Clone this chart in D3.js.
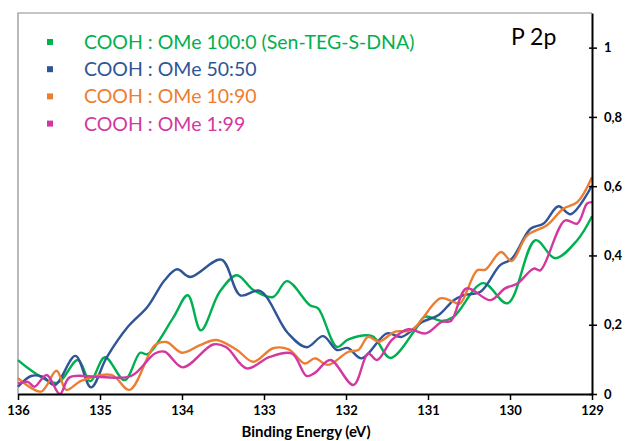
<!DOCTYPE html>
<html>
<head>
<meta charset="utf-8">
<script src="https://cdn.jsdelivr.net/npm/d3@7"></script>
<style>
  body { margin: 0; background: #fff; }
  svg { display: block; }
</style>
</head>
<body>
<svg id="chart" width="627" height="441"></svg>
<script>
// Series, as (binding energy, intensity) pairs
var sample100 = [
    [136.00, 0.098], [135.53, 0.032], [135.27, 0.098], [135.12, 0.037], [134.94, 0.106],
    [134.70, 0.040], [134.51, 0.119], [134.42, 0.115], [134.11, 0.219], [133.93, 0.285],
    [133.77, 0.184], [133.54, 0.295], [133.33, 0.343], [133.13, 0.300], [132.89, 0.280],
    [132.72, 0.326], [132.44, 0.256], [132.34, 0.247], [132.11, 0.136], [131.97, 0.158],
    [131.68, 0.167], [131.46, 0.104], [131.16, 0.184], [131.04, 0.223], [130.83, 0.211],
    [130.69, 0.222], [130.33, 0.320], [130.03, 0.262], [129.69, 0.444], [129.45, 0.392],
    [129.18, 0.444], [129.00, 0.513]
];
var sample50 = [
    [136.00, 0.021], [135.84, 0.052], [135.70, 0.050], [135.55, 0.026], [135.30, 0.110],
    [135.11, 0.019], [134.92, 0.105], [134.66, 0.194], [134.42, 0.252], [134.21, 0.329],
    [134.06, 0.360], [133.90, 0.338], [133.52, 0.388], [133.29, 0.285], [133.05, 0.298],
    [132.71, 0.176], [132.48, 0.135], [132.28, 0.167], [132.11, 0.127], [131.98, 0.133],
    [131.81, 0.103], [131.50, 0.175], [131.32, 0.165], [131.07, 0.208], [130.87, 0.228],
    [130.69, 0.270], [130.57, 0.285], [130.36, 0.295], [130.12, 0.372], [129.98, 0.390],
    [129.75, 0.477], [129.59, 0.492], [129.41, 0.542], [129.26, 0.519], [129.00, 0.602]
];
var sample10 = [
    [136.00, 0.046], [135.72, 0.007], [135.53, 0.067], [135.41, 0.012], [135.23, 0.038],
    [134.86, 0.055], [134.64, 0.012], [134.33, 0.141], [134.19, 0.150], [134.00, 0.119],
    [133.78, 0.141], [133.58, 0.156], [133.33, 0.127], [133.13, 0.093], [132.89, 0.132],
    [132.70, 0.129], [132.50, 0.088], [132.38, 0.103], [132.22, 0.084], [131.97, 0.122],
    [131.85, 0.127], [131.73, 0.165], [131.60, 0.151], [131.40, 0.180], [131.20, 0.184],
    [130.85, 0.276], [130.69, 0.266], [130.61, 0.261], [130.40, 0.357], [130.30, 0.359],
    [130.11, 0.410], [129.98, 0.384], [129.79, 0.458], [129.55, 0.487], [129.35, 0.535],
    [129.18, 0.554], [129.00, 0.626]
];
var sample1 = [
    [136.00, 0.030], [135.88, 0.035], [135.80, 0.021], [135.65, 0.055], [135.49, 0.000],
    [135.37, 0.048], [135.00, 0.049], [134.62, 0.052], [134.33, 0.117], [134.21, 0.122],
    [133.99, 0.077], [133.62, 0.143], [133.46, 0.135], [133.21, 0.074], [132.93, 0.107],
    [132.66, 0.117], [132.48, 0.052], [132.38, 0.061], [132.19, 0.098], [131.91, 0.026],
    [131.73, 0.117], [131.62, 0.098], [131.44, 0.156], [131.24, 0.187], [131.03, 0.175],
    [130.83, 0.208], [130.72, 0.211], [130.53, 0.305], [130.24, 0.271], [130.06, 0.305],
    [129.91, 0.319], [129.71, 0.362], [129.63, 0.357], [129.33, 0.501], [129.18, 0.492],
    [129.06, 0.550], [129.00, 0.554]
];

var seriesNames = [
    "COOH : OMe 100:0 (Sen-TEG-S-DNA)",
    "COOH : OMe 50:50",
    "COOH : OMe 10:90",
    "COOH : OMe 1:99"
];
var seriesColors = ["#00b050", "#2f5597", "#ed7d31", "#d2389f"];
var seriesData = [sample100, sample50, sample10, sample1];

var xTicks = [136, 135, 134, 133, 132, 131, 130, 129];
var yTicks = [0, 0.2, 0.4, 0.6, 0.8, 1];

var margin = {top: 13, right: 35, bottom: 47, left: 18};
var width = 627 - margin.left - margin.right;
var height = 441 - margin.top - margin.bottom;

var svg = d3.select("#chart");
var g = svg.append("g")
    .attr("transform", "translate(" + margin.left + "," + margin.top + ")");

var x = d3.scaleLinear().domain([136, 129]).range([0, width]);
var y = d3.scaleLinear().domain([0, 1.1]).range([height, 0]);

// grey frame on top and left
g.append("path")
    .attr("d", "M0," + height + "V0H" + width)
    .attr("fill", "none")
    .attr("stroke", "#8c8c8c")
    .attr("stroke-width", 1.2);

// lines
var line = d3.line()
    .x(function(d) { return x(d[0]); })
    .y(function(d) { return y(d[1]); })
    .curve(d3.curveCatmullRom.alpha(0.5));

seriesData.forEach(function(data, i) {
    g.append("path")
        .datum(data)
        .attr("fill", "none")
        .attr("stroke", seriesColors[i])
        .attr("stroke-width", 2.4)
        .attr("stroke-linejoin", "round")
        .attr("d", line);
});

// bottom axis
var xAxis = g.append("g")
    .attr("transform", "translate(0," + height + ")")
    .call(d3.axisBottom(x).tickValues(xTicks).tickSize(6).tickSizeOuter(0).tickFormat(d3.format("d")));

xAxis.select(".domain").attr("stroke", "#000").attr("stroke-width", 2);
xAxis.selectAll(".tick line").attr("stroke", "#000").attr("stroke-width", 1.5);
xAxis.selectAll(".tick text")
    .attr("y", 12)
    .style("font-family", "Lato, 'Open Sans', sans-serif")
    .style("font-weight", "bold")
    .style("font-size", "13px")
    .attr("fill", "#000");

// right axis
var yAxis = g.append("g")
    .attr("transform", "translate(" + width + ",0)")
    .call(d3.axisRight(y).tickValues(yTicks).tickSize(5).tickSizeOuter(0)
        .tickFormat(function(d) { return String(d).replace(".", ","); }));

yAxis.select(".domain").attr("stroke", "#000").attr("stroke-width", 2);
yAxis.selectAll(".tick line").attr("stroke", "#000").attr("stroke-width", 1.5).attr("x1", -3);
yAxis.selectAll(".tick text")
    .attr("x", 12)
    .style("font-family", "Lato, 'Open Sans', sans-serif")
    .style("font-weight", "bold")
    .style("font-size", "13px")
    .attr("fill", "#000");

// axis title
svg.append("text")
    .attr("x", 306)
    .attr("y", 437)
    .attr("text-anchor", "middle")
    .style("font-family", "Lato, 'Open Sans', sans-serif")
    .style("font-weight", "bold")
    .style("font-size", "15px")
    .text("Binding Energy (eV)");

// P 2p label
svg.append("text")
    .attr("x", 511)
    .attr("y", 45)
    .style("font-family", "Lato, 'Open Sans', sans-serif")
    .style("font-size", "23px")
    .text("P 2p");

// legend
var legend = svg.append("g").attr("transform", "translate(47,42)");
seriesNames.forEach(function(name, i) {
    var row = legend.append("g").attr("transform", "translate(0," + (i * 27.2) + ")");
    row.append("rect")
        .attr("x", 0).attr("y", -3)
        .attr("width", 6).attr("height", 6)
        .attr("fill", seriesColors[i]);
    row.append("text")
        .attr("x", 37)
        .attr("y", 7)
        .attr("fill", seriesColors[i])
        .style("font-family", "Lato, 'Open Sans', sans-serif")
        .style("font-size", "19.5px")
        .text(name);
});
</script>
</body>
</html>
